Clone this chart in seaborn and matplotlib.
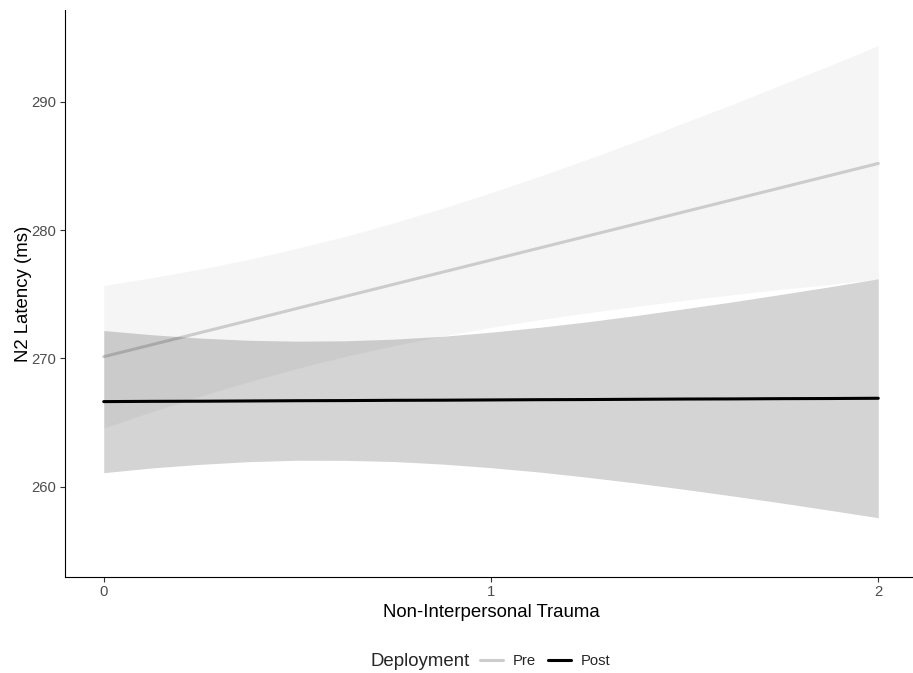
import matplotlib
matplotlib.use("Agg")
import matplotlib.pyplot as plt
from matplotlib.lines import Line2D
import pandas as pd
import seaborn as sns

# values
trauma = [0, 0.125, 0.25, 0.375, 0.5, 0.625, 0.75, 0.875, 1,
          1.125, 1.25, 1.375, 1.5, 1.625, 1.75, 1.875, 2]

pre_fit = [270.13, 271.07, 272.01, 272.95, 273.90, 274.84, 275.78, 276.72, 277.66,
           278.60, 279.54, 280.48, 281.43, 282.37, 283.31, 284.25, 285.19]
pre_upper = [275.68, 276.29, 276.96, 277.72, 278.58, 279.52, 280.57, 281.70, 282.91,
             284.19, 285.53, 286.92, 288.38, 289.82, 291.33, 292.82, 294.38]
pre_lower = [264.58, 265.85, 267.06, 268.18, 269.22, 270.16, 270.99, 271.74, 272.41,
             273.01, 273.55, 274.04, 274.53, 274.96, 275.38, 275.76, 276.18]

post_fit = [266.63, 266.65, 266.66, 266.68, 266.70, 266.71, 266.73, 266.74, 266.76,
            266.78, 266.79, 266.81, 266.83, 266.84, 266.86, 266.87, 266.89]
post_upper = [272.17, 271.84, 271.58, 271.41, 271.34, 271.37, 271.50, 271.72, 272.04,
              272.42, 272.85, 273.34, 273.87, 274.41, 274.99, 275.58, 276.20]
post_lower = [261.09, 261.46, 261.74, 261.95, 262.06, 262.05, 261.96, 261.76, 261.48,
              261.14, 260.73, 260.28, 259.79, 259.27, 258.73, 258.16, 257.58]

groups = ["Pre", "Post"]
line_colors = {"Pre": "#cccccc", "Post": "#000000"}
S = 1.22  # ggplot pt -> figure scale

df = pd.concat([
    pd.DataFrame({"trauma": trauma, "latency": pre_fit, "Deployment": "Pre"}),
    pd.DataFrame({"trauma": trauma, "latency": post_fit, "Deployment": "Post"}),
])

sns.set_style("white")
plt.rcParams["font.family"] = ["Liberation Sans", "DejaVu Sans"]

W, H = 913, 673
fig = plt.figure(figsize=(W / 100, H / 100), dpi=100)
ax = fig.add_axes([65 / W, 1 - 577 / H, (917 - 65) / W, (577 - 10) / H])

# ribbons and lines, in the layering seen in the picture
ax.fill_between(trauma, pre_lower, pre_upper, color="#cccccc", alpha=0.18, lw=0, zorder=1)
ax.fill_between(trauma, post_lower, post_upper, color="#000000", alpha=0.17, lw=0, zorder=3)

sns.lineplot(data=df, x="trauma", y="latency", hue="Deployment", hue_order=groups,
             palette=line_colors, errorbar=None, linewidth=2.2, legend=False, ax=ax)
for line, z in zip(ax.lines, [2, 4]):
    line.set_zorder(z)

ax.set_xlim(-0.1, 2.1)
ax.set_ylim(252.96, 297.15)
ax.set_xticks([0, 1, 2])
ax.set_yticks([260, 270, 280, 290])

for side in ["top", "right"]:
    ax.spines[side].set_visible(False)
for side in ["left", "bottom"]:
    ax.spines[side].set_color("black")
    ax.spines[side].set_linewidth(0.8)

ax.tick_params(axis="both", which="major", length=3.4, width=0.8, color="#333333",
               labelcolor="#4d4d4d", labelsize=8.8 * S, pad=2.2 * S,
               bottom=True, left=True)
ax.set_xlabel("Non-Interpersonal Trauma", fontsize=11 * S, color="black", labelpad=3)
ax.set_ylabel("N2 Latency (ms)", fontsize=11 * S, color="black", labelpad=0)

handles = [Line2D([], [], color=line_colors[g], lw=2.2) for g in groups]
fig.legend(handles, groups, ncol=2, frameon=False, loc="center",
           bbox_to_anchor=(545 / W, 1 - 661 / H), fontsize=8.8 * S,
           handlelength=1.55, handletextpad=0.65, columnspacing=0.8)
fig.text(470 / W, 1 - 661 / H, "Deployment", ha="right", va="center", fontsize=11 * S)

fig.savefig("out.png", dpi=100, facecolor="white")
